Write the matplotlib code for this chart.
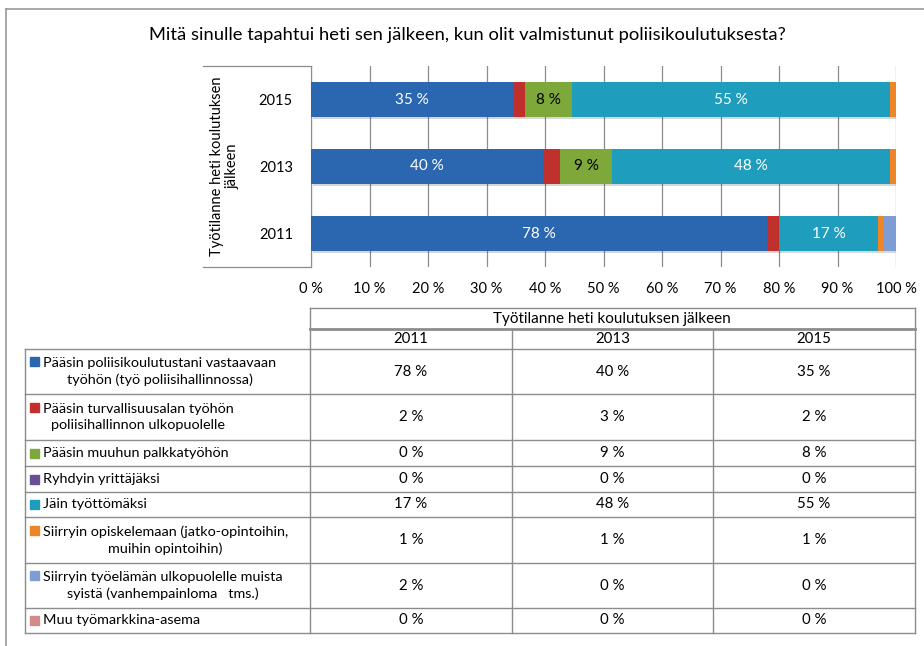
import matplotlib.pyplot as plt
import matplotlib.patheffects as pe
import numpy as np

plt.rcParams['font.family'] = ['Lato', 'DejaVu Sans']

title = 'Mitä sinulle tapahtui heti sen jälkeen, kun olit valmistunut poliisikoulutuksesta?'
axis_label = 'Työtilanne heti koulutuksen\njälkeen'
years = ['2011', '2013', '2015']
categories = [
    'Pääsin poliisikoulutustani vastaavaan\ntyöhön (työ poliisihallinnossa)',
    'Pääsin turvallisuusalan työhön\npoliisihallinnon ulkopuolelle',
    'Pääsin muuhun palkkatyöhön',
    'Ryhdyin yrittäjäksi',
    'Jäin työttömäksi',
    'Siirryin opiskelemaan (jatko-opintoihin,\nmuihin opintoihin)',
    'Siirryin työelämän ulkopuolelle muista\nsyistä (vanhempainloma   tms.)',
    'Muu työmarkkina-asema',
]
v2011 = [78, 2, 0, 0, 17, 1, 2, 0]
v2013 = [40, 3, 9, 0, 48, 1, 0, 0]
v2015 = [35, 2, 8, 0, 55, 1, 0, 0]
colors = ['#2B67B1', '#C0312D', '#7EA83A', '#6A4E95', '#1F9DBC', '#EE8629', '#7E9DD5', '#D38A8A']
label_colors = ['white', 'white', 'black', 'white', 'white', 'white', 'white', 'white']

values = np.array([v2011, v2013, v2015], dtype=float)
shares = values / values.sum(axis=1, keepdims=True) * 100

W, H = 924, 646
fig = plt.figure(figsize=(W / 100, H / 100), dpi=100)

def fx(x):
    return x / W

def fy(y):
    return 1 - y / H

# bar chart
ax = fig.add_axes([fx(311), fy(267), fx(896) - fx(311), (267 - 66) / H])
ypos = np.arange(len(years))
left = np.zeros(len(years))
shadow = [pe.SimplePatchShadow(offset=(1.2, -1.5), alpha=0.18), pe.Normal()]
for i in range(len(categories)):
    bars = ax.barh(ypos, shares[:, i], left=left, height=0.52, color=colors[i], zorder=3)
    for b in bars:
        b.set_path_effects(shadow)
    for j in range(len(years)):
        if values[j, i] >= 5:
            ax.text(left[j] + shares[j, i] / 2, ypos[j], f'{int(values[j, i])} %',
                    ha='center', va='center', color=label_colors[i], fontsize=11, zorder=4)
    left += shares[:, i]

ax.set_xlim(0, 100)
ax.set_ylim(-0.5, 2.5)
ax.set_xticks(np.arange(0, 101, 10))
ax.set_xticklabels([f'{t} %' for t in range(0, 101, 10)], fontsize=10.5)
ax.set_yticks(ypos)
ax.set_yticklabels(years, fontsize=10.5)
ax.tick_params(axis='x', length=0, pad=11)
ax.tick_params(axis='y', length=0, pad=13)
ax.grid(axis='x', color='#8c8c8c', linewidth=0.9, zorder=0)
for s in ['top', 'right', 'bottom']:
    ax.spines[s].set_visible(False)
ax.spines['left'].set_color('#8c8c8c')
ax.set_ylabel(axis_label, fontsize=10.5, labelpad=14, linespacing=1.1)

# overlay in pixel coordinates for frame and table
ov2 = fig.add_axes([0, 0, 1, 1])
ov2.set_xlim(0, W)
ov2.set_ylim(H, 0)
ov2.axis('off')
ov2.patch.set_alpha(0)

line_c = '#8c8c8c'
ov2.plot([6, W], [9, 9], color='#999999', lw=1.2)
ov2.plot([6, 6], [9, H], color='#999999', lw=1.2)
ov2.plot([203, 311], [66, 66], color=line_c, lw=0.9)
ov2.plot([203, 311], [267, 267], color=line_c, lw=0.9)

ov2.text(467, 35, title, ha='center', va='center', fontsize=13.2)

# table
col_x = [25, 310, 512, 713, 915]
row_y = [349, 394, 440, 466, 492, 517, 563, 608, 633]
tc = '#8c8c8c'
# header rows
ov2.plot([310, 915], [308, 308], color=tc, lw=1)
ov2.plot([310, 915], [329, 329], color=tc, lw=2)
ov2.plot([310, 310], [308, 349], color=tc, lw=1)
ov2.plot([915, 915], [308, 349], color=tc, lw=1)
ov2.plot([512, 512], [329, 349], color=tc, lw=1)
ov2.plot([713, 713], [329, 349], color=tc, lw=1)
ov2.text(612, 318.5, axis_label.replace('\n', ' '), ha='center', va='center', fontsize=11)
for k, yr in enumerate(years):
    ov2.text((col_x[k + 1] + col_x[k + 2]) / 2, 339, yr, ha='center', va='center', fontsize=10.8)
# body
for y in row_y:
    ov2.plot([25, 915], [y, y], color=tc, lw=1)
for x in col_x:
    ov2.plot([x, x], [row_y[0], row_y[-1]], color=tc, lw=1)

for i, cat in enumerate(categories):
    y0, y1 = row_y[i], row_y[i + 1]
    yc = (y0 + y1) / 2
    nlines = cat.count('\n') + 1
    first_y = yc - (nlines - 1) * 10
    ov2.add_patch(plt.Rectangle((30, first_y - 4.5), 9, 9, color=colors[i]))
    ov2.text(43, yc, cat, ha='left', va='center', multialignment='center',
             fontsize=10.4, linespacing=1.4)
    for k in range(len(years)):
        ov2.text((col_x[k + 1] + col_x[k + 2]) / 2, yc, f'{int(values[k, i])} %',
                 ha='center', va='center', fontsize=10.8)

fig.savefig('out.png', dpi=100)
